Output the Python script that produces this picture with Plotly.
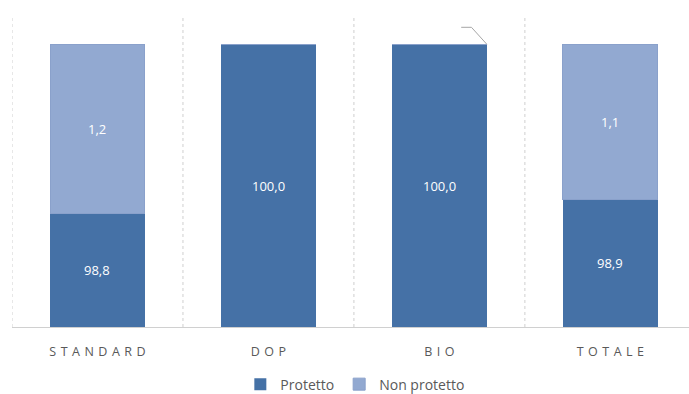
import plotly.graph_objects as go

# Quote di latte protetto / non protetto per tipologia (%)
categories = ["STANDARD", "DOP", "BIO", "TOTALE"]
protetto = [98.8, 100.0, 100.0, 98.9]
non_protetto = [1.2, 0.0, 0.0, 1.1]

y_min, y_max = 98.0, 100.2
dark = "#4571A6"
light = "#92A9D1"
font_family = "'Open Sans', 'Noto Sans', sans-serif"

x = list(range(len(categories)))
bar_w = 0.555


def spaced(s):
    # letter-spaced category captions
    return " \u200a".join(s)


def fmt(v):
    return f"{v:.1f}".replace(".", ",")


fig = go.Figure()
fig.add_trace(go.Bar(
    x=x, y=protetto, name="Protetto", width=bar_w,
    marker=dict(color=dark, line=dict(width=0)),
))
fig.add_trace(go.Bar(
    x=x, y=non_protetto, name="Non protetto", width=bar_w,
    marker=dict(color=light, line=dict(color="#8AA1CB", width=1)),
))

annotations = []
for xi, p, n in zip(x, protetto, non_protetto):
    # label each segment at the centre of its visible part
    lo = max(y_min, 0)
    annotations.append(dict(x=xi, y=(lo + p) / 2, text=fmt(p), showarrow=False,
                            font=dict(color="white", size=13, family=font_family)))
    if n > 0:
        annotations.append(dict(x=xi, y=p + n / 2, text=fmt(n), showarrow=False,
                                font=dict(color="white", size=13, family=font_family)))

shapes = []
# dotted separators between categories
for b in [i - 0.5 for i in range(len(categories) + 1)]:
    shapes.append(dict(type="line", xref="x", yref="paper", x0=b, x1=b, y0=0, y1=1,
                       line=dict(color="#CFCFCF", width=1, dash="dot"), layer="below"))

# leader line of the (zero) label on BIO
bio = categories.index("BIO")
top = protetto[bio] + non_protetto[bio]
xr = bio + bar_w / 2
fig.add_trace(go.Scatter(
    x=[xr, xr - 0.09, xr - 0.15], y=[top, top + 0.12, top + 0.12],
    mode="lines", line=dict(color="#A6A6A6", width=1), showlegend=False, hoverinfo="skip",
))

fig.update_layout(
    width=689, height=394,
    margin=dict(l=12, r=0, t=16, b=67, autoexpand=False),
    barmode="stack",
    bargap=0.445,
    paper_bgcolor="white", plot_bgcolor="white",
    separators=",.",
    font=dict(family=font_family, color="#595959"),
    annotations=annotations,
    shapes=shapes,
    showlegend=True,
    legend=dict(orientation="h", xref="container", yref="container",
                x=0.515, xanchor="center", y=0.024, yanchor="middle",
                font=dict(size=14, color="#595959", family=font_family),
                itemwidth=30, traceorder="normal"),
    xaxis=dict(range=[-0.5, 3.46], tickvals=x, ticktext=[spaced(c) for c in categories],
               tickfont=dict(size=12.5, color="#595959", family=font_family),
               showgrid=False, zeroline=False, showline=True, linecolor="#D0D0D0",
               linewidth=1, ticks="", ticklabelstandoff=13),
    yaxis=dict(range=[y_min, y_max], visible=False, showgrid=False, zeroline=False),
)

fig.write_html("out.html")
